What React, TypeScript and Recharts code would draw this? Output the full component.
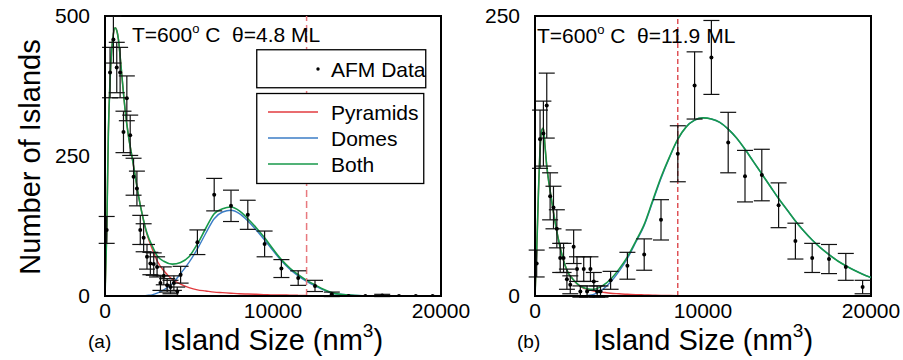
import React from "react";
import {
  ComposedChart,
  ErrorBar,
  Line,
  ReferenceArea,
  ReferenceLine,
  Scatter,
  XAxis,
  YAxis,
} from "recharts";

// panel (a): T=600 C, theta=4.8 ML
const binsA = [
  100, 300, 500, 700, 900, 1100, 1300, 1500, 1700, 1900, 2100, 2300, 2500, 2700, 2900, 3100, 3300, 3500, 3700, 3900,
  4100, 4300, 4500, 5500, 6500, 7500, 8500, 9500, 10500, 11500, 12500, 13500, 14500, 15500, 16500, 17500, 18500, 19500,
];
const countsA = [
  118, 399, 458, 408, 399, 293, 353, 287, 213, 192, 118, 104, 70, 58, 57, 52, 23, 36, 19, 16,
  23, 8, 38, 96, 181, 161, 145, 93, 49, 32, 18, 3, 0, 0, 1, 0, 0, 0,
];
const errA = [
  24, 45, 42, 45, 45, 37, 40, 36, 33, 31, 26, 25, 22, 20, 20, 18, 13, 16, 12, 12,
  13, 8, 15, 22, 29, 28, 26, 23, 16, 13, 10, 4, 0, 0, 2, 0, 0, 0,
];
const curveXA = [
  0, 100, 200, 300, 400, 500, 600, 700, 800, 900, 1000, 1200, 1400, 1600, 1800, 2000, 2200, 2500, 2800, 3100, 3500,
  4000, 4500, 5000, 5500, 6000, 6500, 7000, 7500, 8000, 8500, 9000, 9500, 10000, 10500, 11000, 11500, 12000, 12500,
  13000, 13500, 14000, 15000, 16000, 18000, 20000,
];
const pyramidsA = [
  0, 110, 290, 385, 440, 468, 479, 474, 458, 428, 395, 332, 285, 250, 214, 178, 148, 110, 85, 63, 45,
  30, 21, 15, 11, 9, 7, 6, 5, 4, 3.5, 3, 2.5, 2, 2, 1.5, 1.2, 1, null,
  null, null, null, null, null, null, null,
];
const domesA = [
  0, 0, 0, 0, 0, 0, 0, 0, 0, 0, 0, 0, 0, 0, 0, 0, 0, 1, 2, 5, 11,
  22, 40, 60, 84, 112, 138, 150, 153, 147, 134, 118, 100, 81, 63, 48, 36, 26, 18,
  11, 5, 3, 1, 0, 0, 0,
];
const bothA = [
  0, 110, 290, 385, 440, 468, 479, 474, 458, 428, 395, 332, 285, 250, 214, 178, 148, 112, 90, 72, 62,
  57, 60, 70, 93, 121, 147, 156, 159, 152, 138, 122, 104, 84, 65, 50, 38, 28, 20,
  12, 6, 3, 1, 0, 0, 0,
];
const criticalA = 12000;
const yTicksA = [0, 250, 500];

// panel (b): T=600 C, theta=11.9 ML
const binsB = [
  100, 300, 500, 700, 900, 1100, 1300, 1500, 1700, 1900, 2100, 2300, 2500, 2700, 2900, 3100, 3300, 3500, 3700, 3900,
  4500, 5500, 6500, 7500, 8500, 9500, 10500, 11500, 12500, 13500, 14500, 15500, 16500, 17500, 18500, 19500,
];
const countsB = [
  29, 140, 145, 170, 89, 79, 60, 34, 34, 15, 10, 44, 24, 4, 24, 4, 24, 13, 4, 4,
  14, 27, 37, 68, 127, 188, 213, 137, 107, 108, 81, 49, 34, 33, 26, 8,
];
const errB = [
  12, 26, 29, 29, 21, 19, 17, 13, 13, 9, 8, 15, 11, 5, 11, 5, 11, 8, 5, 5,
  8, 12, 14, 18, 25, 30, 33, 27, 23, 23, 20, 16, 13, 13, 12, 6,
];
const curveXB = [
  0, 100, 200, 300, 400, 500, 600, 700, 800, 900, 1000, 1200, 1400, 1600, 1800, 2000, 2200, 2500, 2800, 3100, 3500,
  4000, 4500, 5000, 5500, 6000, 6500, 7000, 7500, 8000, 8500, 9000, 9500, 10000, 10500, 11000, 11500, 12000, 12500,
  13000, 13500, 14000, 14500, 15000, 15500, 16000, 16500, 17000, 17500, 18000, 18500, 19000, 19500, 20000,
];
const pyramidsB = [
  0, 40, 90, 130, 148, 150, 133, 116, 104, 94, 84, 66, 50, 37, 27, 20, 16, 11, 7.8, 6, 4.5,
  3.5, 2.5, 2, 1.5, 1.2, 1, 0.8, 0.6, 0.5, 0.3, null, null, null, null, null, null, null, null,
  null, null, null, null, null, null, null, null, null, null, null, null, null, null, null,
];
const domesB = [
  0, 0, 0, 0, 0, 0, 0, 0, 0, 0, 0, 0, 0, 0, 0, 0, 0, 0, 0.2, 0.5, 1.5,
  5.5, 12.5, 22, 33.5, 48, 63, 84, 105, 123.5, 139.7, 151, 157, 159, 158, 155, 149, 141, 131,
  120, 109, 98, 87, 77, 67, 58, 50, 43, 37, 31.5, 27, 23, 19.5, 16.5,
];
const bothB = [
  0, 40, 90, 130, 148, 150, 133, 116, 104, 94, 84, 66, 50, 37, 27, 20, 16, 11, 8, 6.5, 6,
  9, 15, 24, 35, 49, 64, 85, 106, 124, 140, 151, 157, 159, 158, 155, 149, 141, 131,
  120, 109, 98, 87, 77, 67, 58, 50, 43, 37, 31.5, 27, 23, 19.5, 16.5,
];
const criticalB = 8500;
const yTicksB = [0, 250];

const xTicks = [0, 10000, 20000];

const RED = "#e23b3f";
const BLUE = "#3b7dc6";
const GREEN = "#17994a";
const FONT = "'Liberation Sans', Arial, Helvetica, sans-serif";

const toCurve = (xs: number[], ys: (number | null)[]) => xs.map((x, i) => ({ x, y: ys[i] }));
const toPoints = (xs: number[], ys: number[], es: number[]) =>
  xs.map((x, i) => ({ x, y: ys[i], err: es[i] }));

const DataDot = (props: any) => <circle cx={props.cx} cy={props.cy} r={2} fill="#000" />;

function LegendBoxes({ left, top }: { left: number; top: number }) {
  const rows = [
    { y: 19, color: RED, label: "Pyramids" },
    { y: 45, color: BLUE, label: "Domes" },
    { y: 71, color: GREEN, label: "Both" },
  ];
  return (
    <svg
      width={172}
      height={138}
      style={{ position: "absolute", left, top, fontFamily: FONT }}
    >
      <rect x={0.75} y={0.75} width={169} height={38} fill="#fff" stroke="#000" strokeWidth={1.3} />
      <circle cx={62} cy={20} r={1.7} fill="#000" />
      <text x={75} y={28} fontSize={21} fill="#000">
        AFM Data
      </text>
      <rect x={0.75} y={44.5} width={167} height={90} fill="#fff" stroke="#000" strokeWidth={1.3} />
      {rows.map((r) => (
        <g key={r.label}>
          <line x1={12} x2={62} y1={44 + r.y} y2={44 + r.y} stroke={r.color} strokeWidth={1.4} />
          <text x={75} y={44 + r.y + 8} fontSize={21} fill="#000">
            {r.label}
          </text>
        </g>
      ))}
    </svg>
  );
}

function Panel(props: {
  left: number;
  width: number;
  right: number;
  top: number;
  yMax: number;
  yTicks: number[];
  points: any[];
  pyramids: any[];
  domes: any[];
  both: any[];
  critical: number;
  dashColor: string;
  dashArray: string;
  dashWidth: number;
}) {
  const { left, top, yMax } = props;
  return (
    <div style={{ position: "absolute", left, top: 0 }}>
      <ComposedChart width={props.width} height={360} margin={{ top, right: props.right, bottom: 34, left: 45 }}>
        <XAxis
          type="number"
          dataKey="x"
          domain={[0, 20000]}
          ticks={xTicks}
          allowDataOverflow
          tickLine={false}
          tickSize={0}
          tickMargin={7}
          axisLine={{ stroke: "#000", strokeWidth: 2 }}
          tick={{ fontSize: 21, fill: "#000", fontFamily: FONT }}
          height={30}
        />
        <YAxis
          type="number"
          domain={[0, yMax]}
          ticks={props.yTicks}
          allowDataOverflow
          tickLine={false}
          tickSize={0}
          tickMargin={15}
          axisLine={{ stroke: "#000", strokeWidth: 2 }}
          tick={{ fontSize: 21, fill: "#000", fontFamily: FONT }}
          width={60}
        />
        <ReferenceArea x1={0} x2={20000} y1={0} y2={yMax} fill="none" stroke="#000" strokeWidth={2} />
        <Line data={props.pyramids} dataKey="y" type="monotone" stroke={RED} strokeWidth={1.4} dot={false} isAnimationActive={false} />
        <Line data={props.domes} dataKey="y" type="monotone" stroke={BLUE} strokeWidth={1.4} dot={false} isAnimationActive={false} />
        <Line data={props.both} dataKey="y" type="monotone" stroke={GREEN} strokeWidth={1.6} dot={false} isAnimationActive={false} />
        <ReferenceLine x={props.critical} stroke={props.dashColor} strokeWidth={props.dashWidth} strokeDasharray={props.dashArray} />
        <Scatter data={props.points} dataKey="y" shape={DataDot} isAnimationActive={false}>
          <ErrorBar dataKey="err" direction="y" width={8} stroke="#111" strokeWidth={1.2} />
        </Scatter>
      </ComposedChart>
    </div>
  );
}

const deg = <span style={{ fontSize: 13, position: "relative", top: -9 }}>o</span>;

export default function App() {
  return (
    <div style={{ position: "relative", width: 903, height: 360, background: "#fff", fontFamily: FONT, color: "#000", overflow: "hidden" }}>
      <style>{"body{margin:0}"}</style>
      <Panel
        left={0}
        width={480}
        right={39}
        top={16}
        yMax={500}
        yTicks={yTicksA}
        points={toPoints(binsA, countsA, errA)}
        pyramids={toCurve(curveXA, pyramidsA)}
        domes={toCurve(curveXA, domesA)}
        both={toCurve(curveXA, bothA)}
        critical={criticalA}
        dashColor="#e8797e"
        dashArray="7 4"
        dashWidth={1.5}
      />
      <Panel
        left={430}
        width={473}
        right={32}
        top={16}
        yMax={250}
        yTicks={yTicksB}
        points={toPoints(binsB, countsB, errB)}
        pyramids={toCurve(curveXB, pyramidsB)}
        domes={toCurve(curveXB, domesB)}
        both={toCurve(curveXB, bothB)}
        critical={criticalB}
        dashColor="#d8282e"
        dashArray="5 3"
        dashWidth={1.2}
      />
      <LegendBoxes left={256} top={49} />
      <div style={{ position: "absolute", left: 132, top: 24, fontSize: 21, lineHeight: "21px", whiteSpace: "pre" }}>
        T=600{deg} C  θ=4.8 ML
      </div>
      <div style={{ position: "absolute", left: 537, top: 25, fontSize: 21, lineHeight: "21px", whiteSpace: "pre" }}>
        T=600{deg} C  θ=11.9 ML
      </div>
      <div
        style={{
          position: "absolute",
          left: 30,
          top: 157,
          fontSize: 29,
          lineHeight: "29px",
          whiteSpace: "nowrap",
          transform: "translate(-50%, -50%) rotate(-90deg)",
        }}
      >
        Number of Islands
      </div>
      {[273, 703].map((cx) => (
        <div
          key={cx}
          style={{ position: "absolute", left: cx, top: 326, fontSize: 29, lineHeight: "29px", whiteSpace: "nowrap", transform: "translateX(-50%)" }}
        >
          Island Size (nm<span style={{ fontSize: 19, position: "relative", top: -13 }}>3</span>)
        </div>
      ))}
      <div style={{ position: "absolute", left: 88, top: 332, fontSize: 19, lineHeight: "20px" }}>(a)</div>
      <div style={{ position: "absolute", left: 517, top: 332, fontSize: 19, lineHeight: "20px" }}>(b)</div>
    </div>
  );
}
